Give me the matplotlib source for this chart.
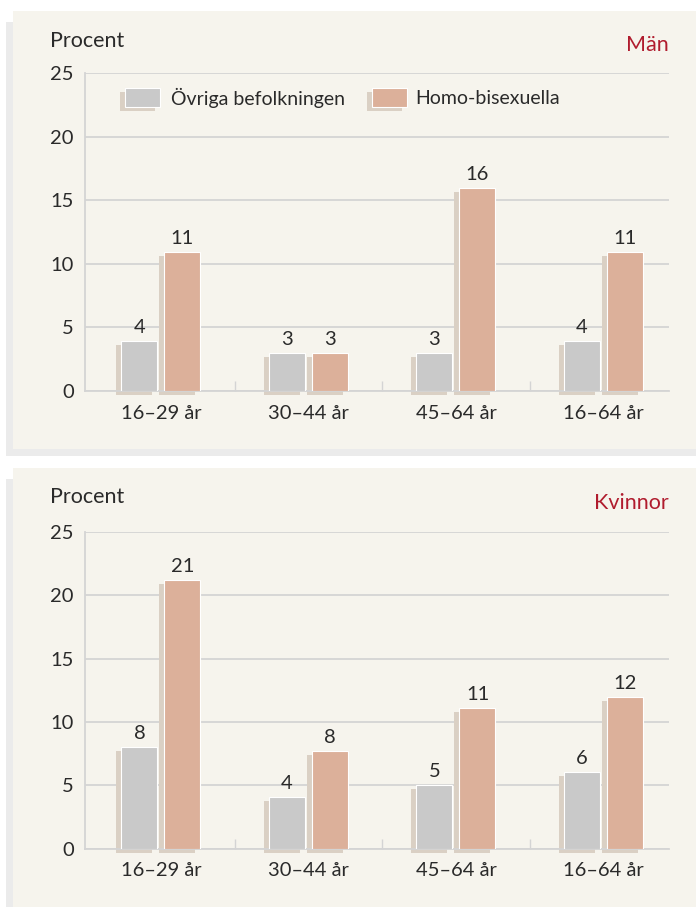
import matplotlib
matplotlib.use("Agg")
import matplotlib.pyplot as plt
import matplotlib.transforms as mtransforms
from matplotlib.patches import Rectangle
import numpy as np

plt.rcParams['font.family'] = ['Lato', 'DejaVu Sans']

# data
groups = ["16–29 år", "30–44 år", "45–64 år", "16–64 år"]
series_names = ["Övriga befolkningen", "Homo-bisexuella"]
man_ovriga = [3.95, 3.0, 3.0, 3.95]
man_homo = [10.9, 3.0, 15.95, 10.95]
kvinnor_ovriga = [8.0, 4.05, 5.05, 6.05]
kvinnor_homo = [21.2, 7.7, 11.1, 12.0]
man_labels = [[4, 3, 3, 4], [11, 3, 16, 11]]
kvinnor_labels = [[8, 4, 5, 6], [21, 8, 11, 12]]
yticks = [0, 5, 10, 15, 20, 25]

W, H = 696, 907
BG = "#f6f4ed"
SHADE = "#ebebeb"
GRID = "#d4d4d4"
GRAY_BAR = "#c9c9c9"
PINK_BAR = "#dcb09a"
BAR_SHADOW = "#dad0c4"
RED = "#b01c2e"
TXT = "#2a2a2a"
FS = 14.5

fig = plt.figure(figsize=(W / 100, H / 100), dpi=100)
fig.patch.set_facecolor("white")


def px_rect(x0, y0, x1, y1, color, z=0):
    # rectangle in pixel coords (origin top-left)
    r = Rectangle((x0 / W, 1 - y1 / H), (x1 - x0) / W, (y1 - y0) / H,
                  transform=fig.transFigure, facecolor=color, edgecolor="none", zorder=z)
    fig.add_artist(r)


# panel backgrounds
px_rect(6, 22, 700, 455.5, SHADE)
px_rect(13, 11, 700, 449, BG)
px_rect(6, 479, 700, 910, SHADE)
px_rect(13, 468, 700, 910, BG)

x = np.arange(len(groups))
bw = 36 / 147.5
off = 21.5 / 147.5
shadow_shift = mtransforms.ScaledTranslation(-0.05, -0.04, fig.dpi_scale_trans)


def draw_panel(ax, ovriga, homo, labels, legend):
    ax.set_facecolor("none")
    for vals, xs, color, labs in ((ovriga, x - off, GRAY_BAR, labels[0]),
                                  (homo, x + off, PINK_BAR, labels[1])):
        ax.bar(xs, vals, width=bw, color=BAR_SHADOW, edgecolor="none",
               transform=ax.transData + shadow_shift, clip_on=False, zorder=2)
        bars = ax.bar(xs, vals, width=bw, color=color, edgecolor="white",
                      linewidth=0.8, zorder=3)
        for b, lab in zip(bars, labs):
            ax.annotate(str(lab), (b.get_x() + b.get_width() / 2, b.get_height()),
                        xytext=(0, 3.5), textcoords="offset points",
                        ha="center", va="bottom", fontsize=FS, color=TXT)
    ax.set_xlim(-0.515, 3.444)
    ax.set_ylim(0, 25)
    ax.set_yticks(yticks)
    ax.set_yticklabels([str(t) for t in yticks], fontsize=FS, color=TXT)
    ax.yaxis.grid(True, color=GRID, linewidth=1.3, zorder=0)
    ax.set_axisbelow(True)
    ax.tick_params(axis="y", length=0, pad=8)
    ax.set_xticks(x)
    ax.set_xticklabels(groups, fontsize=FS, color=TXT)
    ax.tick_params(axis="x", length=0, pad=10)
    ax.set_xticks([0.5, 1.5, 2.5], minor=True)
    ax.tick_params(axis="x", which="minor", direction="in", length=7,
                   width=1, color=GRID)
    for s in ("top", "right"):
        ax.spines[s].set_visible(False)
    for s in ("left", "bottom"):
        ax.spines[s].set_color(GRID)
        ax.spines[s].set_linewidth(1.3)
    if legend:
        items = [(0.0685, GRAY_BAR, 0.147, series_names[0]),
                 (0.491, PINK_BAR, 0.565, series_names[1])]
        for px0, col, tx, name in items:
            ax.add_patch(Rectangle((px0, 0.893), 0.06, 0.06, transform=ax.transAxes + shadow_shift,
                                   facecolor=BAR_SHADOW, edgecolor="none", zorder=4))
            ax.add_patch(Rectangle((px0, 0.893), 0.06, 0.06, transform=ax.transAxes,
                                   facecolor=col, edgecolor="white", linewidth=0.8, zorder=5))
            ax.text(tx, 0.921, name, transform=ax.transAxes, fontsize=FS - 0.5,
                    color=TXT, va="center", ha="left", zorder=5)


ax1 = fig.add_axes([85 / W, 1 - 391 / H, 584 / W, 318 / H])
draw_panel(ax1, man_ovriga, man_homo, man_labels, True)
ax2 = fig.add_axes([85 / W, 1 - 848.5 / H, 584 / W, 316.5 / H])
draw_panel(ax2, kvinnor_ovriga, kvinnor_homo, kvinnor_labels, False)

fig.text(50 / W, 1 - 41 / H, "Procent", fontsize=FS + 1, color=TXT, va="center", ha="left")
fig.text(669 / W, 1 - 45 / H, "Män", fontsize=FS + 1, color=RED, va="center", ha="right")
fig.text(50 / W, 1 - 497 / H, "Procent", fontsize=FS + 1, color=TXT, va="center", ha="left")
fig.text(669 / W, 1 - 503 / H, "Kvinnor", fontsize=FS + 1, color=RED, va="center", ha="right")

fig.savefig("out.png", dpi=100)
